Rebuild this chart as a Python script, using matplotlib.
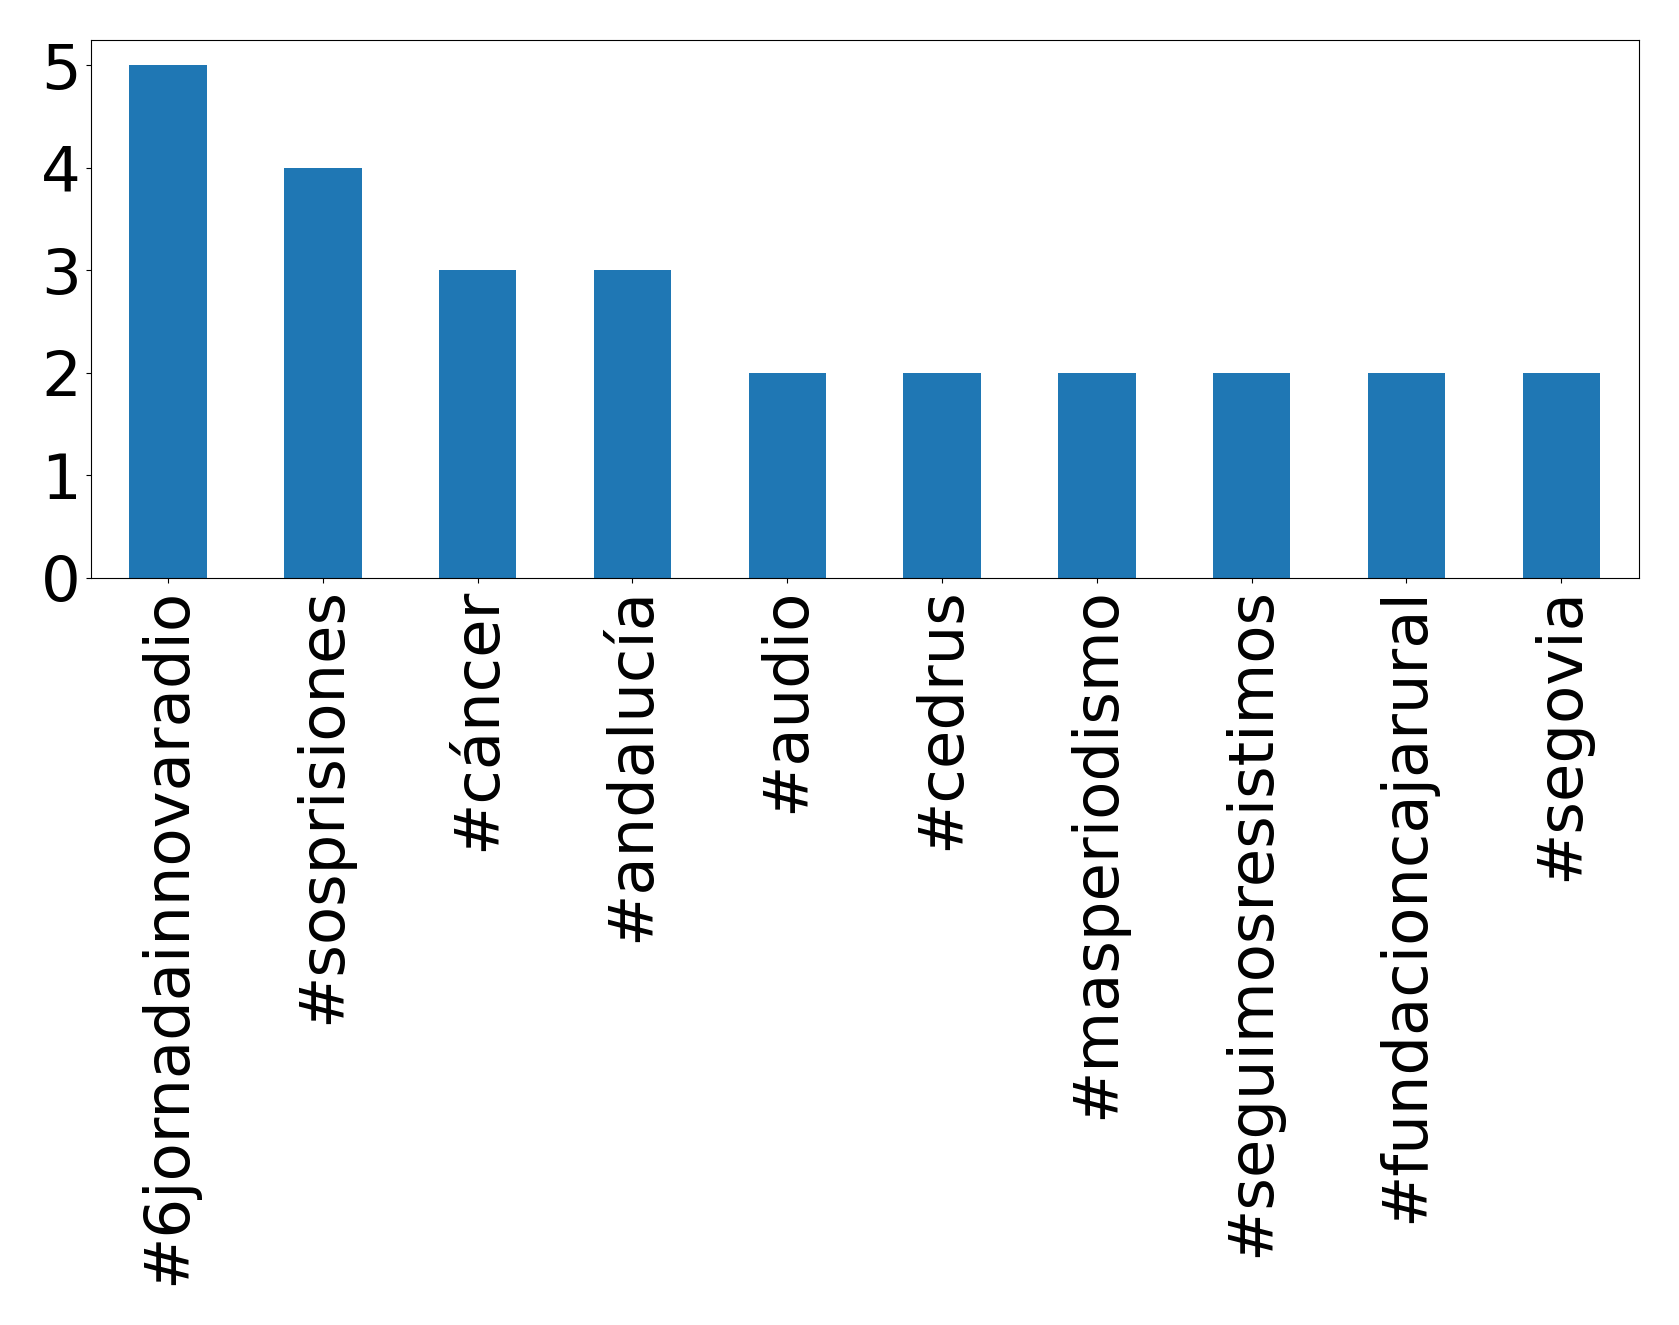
import matplotlib
matplotlib.use("Agg")
import matplotlib.pyplot as plt

tags = ["#6jornadainnovaradio", "#sosprisiones", "#cáncer", "#andalucía", "#audio",
        "#cedrus", "#masperiodismo", "#seguimosresistimos", "#fundacioncajarural", "#segovia"]
counts = [5, 4, 3, 3, 2, 2, 2, 2, 2, 2]

fig = plt.figure(figsize=(16.79, 13.25), dpi=100)
ax = fig.add_axes([0.054, 0.564, 0.922, 0.406])
x = range(len(tags))
ax.bar(x, counts, width=0.5, color="#1f77b4")
ax.set_xlim(-0.5, len(tags) - 0.5)
ax.set_ylim(0, 5.25)
ax.set_xticks(list(x))
ax.set_xticklabels(tags, rotation=90, fontsize=45)
ax.set_yticks(range(6))
ax.tick_params(axis="y", labelsize=45)
fig.savefig("out.png", dpi=100)
